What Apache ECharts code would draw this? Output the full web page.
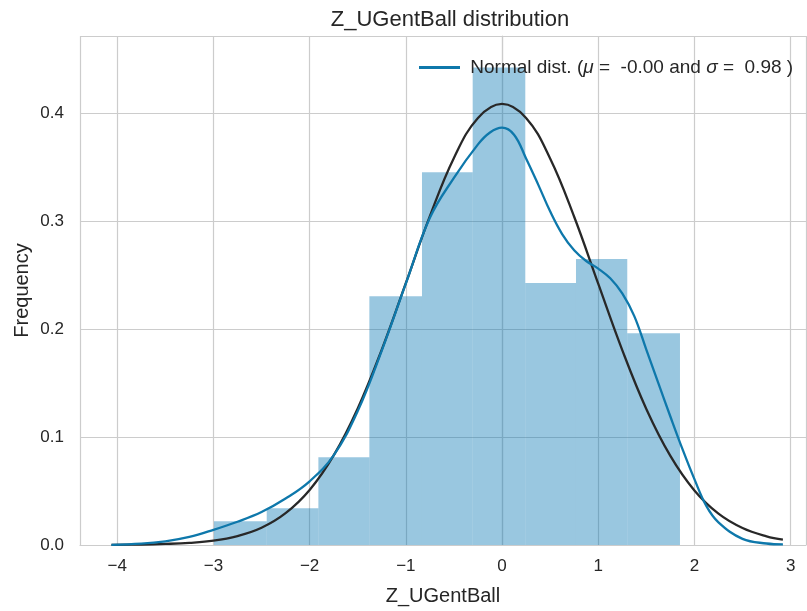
<!DOCTYPE html>
<html>
<head>
<meta charset="utf-8">
<script src="https://cdn.jsdelivr.net/npm/echarts@6/dist/echarts.min.js"></script>
<style>html,body{margin:0;padding:0;background:#fff;}#c{width:807px;height:611px;}</style>
</head>
<body>
<div id="c"></div>
<script>
// Histogram bin edges and bar heights (density)
const binEdges = [-2.994, -2.446, -1.909, -1.379, -0.832, -0.305, 0.242, 0.769, 1.302, 1.850];
const binHeights = [0.0219, 0.0341, 0.0812, 0.2303, 0.3453, 0.4423, 0.2426, 0.2648, 0.1962];

// KDE (blue) sample points
const kdeX = [-4.06, -3.75, -3.5, -3.25, -3.0, -2.75, -2.5, -2.25, -2.0, -1.75, -1.5, -1.25, -1.0, -0.75, -0.5, -0.25, -0.125, 0, 0.125, 0.25, 0.375, 0.5, 0.625, 0.75, 0.875, 1.0, 1.125, 1.25, 1.375, 1.5, 1.625, 1.75, 1.875, 2.0, 2.125, 2.25, 2.5, 2.75, 2.92];
const kdeY = [0.0002, 0.0012, 0.0034, 0.0075, 0.0140, 0.0215, 0.0305, 0.0430, 0.0590, 0.0830, 0.1240, 0.1800, 0.2420, 0.3030, 0.3400, 0.3710, 0.3820, 0.3865, 0.3800, 0.3580, 0.3340, 0.3090, 0.2880, 0.2730, 0.2630, 0.2560, 0.2470, 0.2330, 0.2120, 0.1810, 0.1500, 0.1190, 0.0890, 0.0610, 0.0360, 0.0210, 0.0057, 0.0014, 0.0006];

// Normal fit (dark) sample points
const normX = [-4.06, -3.75, -3.5, -3.25, -3.0, -2.75, -2.5, -2.25, -2.0, -1.75, -1.5, -1.25, -1.0, -0.75, -0.5, -0.25, 0, 0.25, 0.5, 0.75, 1.0, 1.25, 1.5, 1.75, 2.0, 2.25, 2.5, 2.75, 2.92];
const normY = [0.0001, 0.0004, 0.0010, 0.0020, 0.0040, 0.0083, 0.0160, 0.0295, 0.0510, 0.0830, 0.1265, 0.1810, 0.2425, 0.3045, 0.3585, 0.3955, 0.4085, 0.3955, 0.3580, 0.3040, 0.2420, 0.1805, 0.1260, 0.0825, 0.0505, 0.0290, 0.0157, 0.0080, 0.0050];

const titleText = 'Z_UGentBall distribution';
const xName = 'Z_UGentBall';
const yName = 'Frequency';
const legendName = 'Normal dist. (μ =  -0.00 and σ =  0.98 )';

const FONT = 'Liberation Sans';
const TXT = '#262626';

const barData = binHeights.map((h, i) => [binEdges[i], binEdges[i + 1], h]);
const kdeData = kdeX.map((x, i) => [x, kdeY[i]]);
const normData = normX.map((x, i) => [x, normY[i]]);

const chart = echarts.init(document.getElementById('c'), null, {renderer: 'canvas'});
chart.setOption({
  animation: false,
  backgroundColor: '#fff',
  title: {
    text: titleText, left: 445, top: 4, textAlign: 'center',
    textStyle: {fontFamily: FONT, fontSize: 22, fontWeight: 'normal', color: TXT}
  },
  legend: {
    data: [legendName],
    left: 414, top: 53,
    icon: 'rect', itemWidth: 41, itemHeight: 3, itemGap: 10,
    formatter: function () {
      return '{a| Normal dist. (}{i|μ}{a| =  -0.00 and }{i|σ}{a| =  0.98 )}';
    },
    textStyle: {
      fontFamily: FONT, fontSize: 19, color: TXT,
      rich: {
        a: {fontFamily: FONT, fontSize: 19, color: TXT},
        i: {fontFamily: FONT, fontSize: 19, color: TXT, fontStyle: 'italic'}
      }
    }
  },
  grid: {left: 80, right: 1, top: 36, bottom: 64, containLabel: false},
  xAxis: {
    type: 'value', min: -4.387, max: 3.16, splitNumber: 8,
    name: xName, nameLocation: 'middle', nameGap: 41,
    nameTextStyle: {fontFamily: FONT, fontSize: 20, color: TXT},
    axisLine: {show: true, lineStyle: {color: '#cccccc', width: 1.2}},
    axisTick: {show: false},
    axisLabel: {
      showMinLabel: false, showMaxLabel: false, margin: 13,
      fontFamily: FONT, fontSize: 17, color: TXT,
      formatter: v => (v < 0 ? '\u2212' + Math.abs(v) : String(v))
    },
    splitLine: {show: true, lineStyle: {color: '#cccccc', width: 1.2}}
  },
  yAxis: {
    type: 'value', min: 0, max: 0.4714, splitNumber: 5,
    name: yName, nameLocation: 'middle', nameGap: 48, nameRotate: 90,
    nameMoveOverlap: false,
    nameTextStyle: {fontFamily: FONT, fontSize: 20, color: TXT},
    axisLine: {show: true, lineStyle: {color: '#cccccc', width: 1.2}},
    axisTick: {show: false},
    axisLabel: {
      showMaxLabel: false, margin: 16,
      fontFamily: FONT, fontSize: 17, color: TXT,
      formatter: v => v.toFixed(1)
    },
    splitLine: {show: true, lineStyle: {color: '#cccccc', width: 1.2}}
  },
  series: [
    {
      type: 'custom', name: 'hist', data: barData, z: 2,
      encode: {x: [0, 1], y: 2},
      renderItem: function (params, api) {
        const p0 = api.coord([api.value(0), api.value(2)]);
        const p1 = api.coord([api.value(1), 0]);
        return {
          type: 'rect',
          shape: {x: p0[0], y: p0[1], width: p1[0] - p0[0], height: p1[1] - p0[1]},
          style: {fill: 'rgba(0,114,178,0.4)'}
        };
      }
    },
    {
      type: 'line', name: legendName, data: kdeData, smooth: 0.4, showSymbol: false, z: 4,
      color: '#0e78ab',
      lineStyle: {color: '#0e78ab', width: 2.3}
    },
    {
      type: 'line', name: 'norm', data: normData, smooth: 0.4, showSymbol: false, z: 3,
      color: '#282828',
      lineStyle: {color: '#282828', width: 2.3}
    }
  ]
});
</script>
</body>
</html>
